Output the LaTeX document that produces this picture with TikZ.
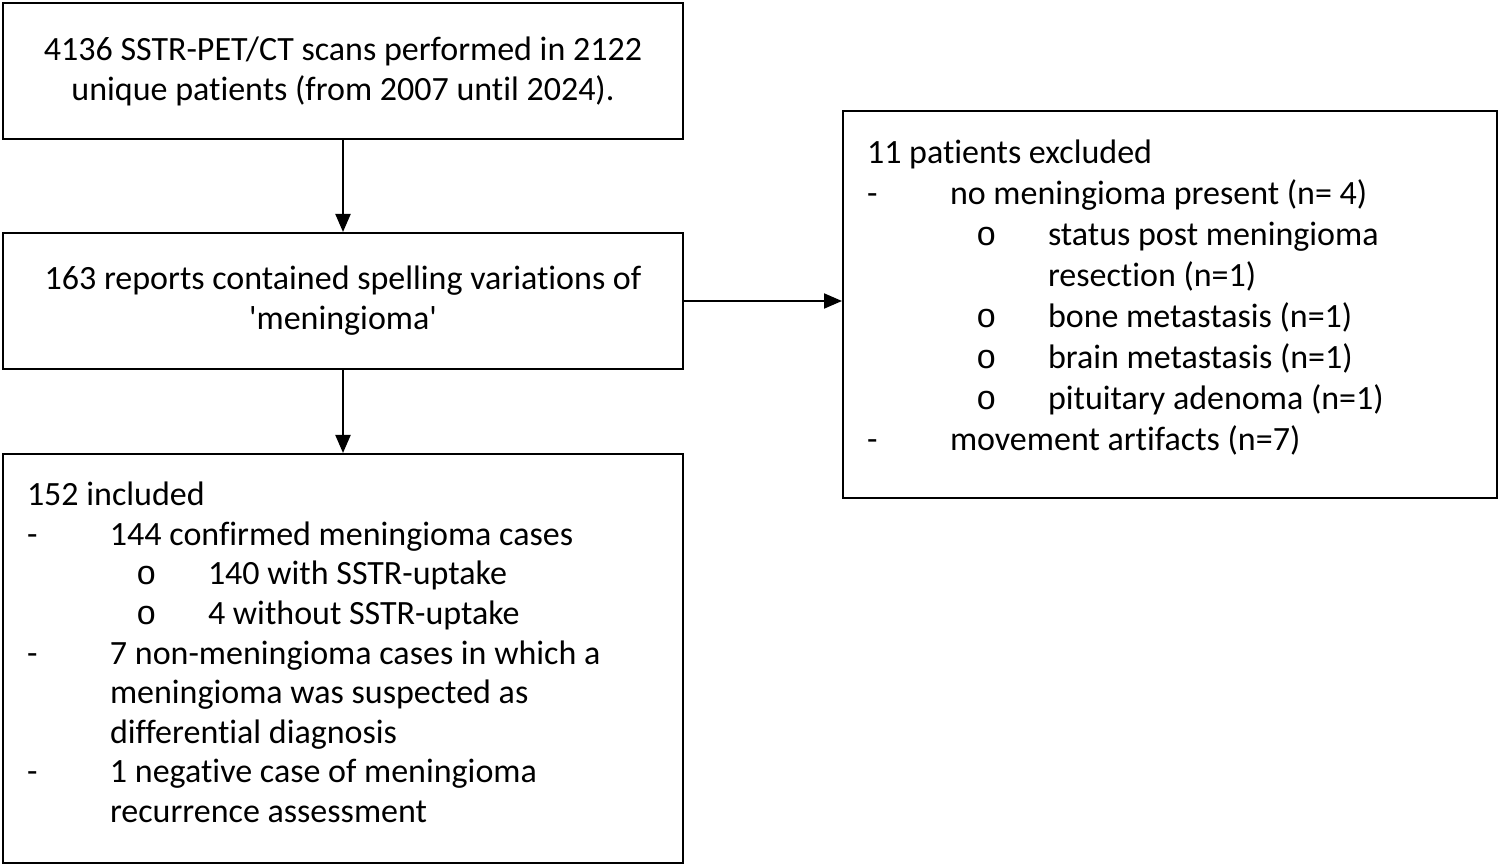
\documentclass[tikz,border=0pt]{standalone}
\usepackage{fontspec}
\setmainfont{Carlito}[Ligatures={TeX,NoCommon}]
\newfontfamily\bulletfont{Liberation Mono}
\usetikzlibrary{arrows.meta}

% list lines inside the boxes
\newcommand{\dashitem}[1]{\makebox[41.5pt][l]{-}#1}
\newcommand{\circitem}[1]{\hspace*{54.5pt}\makebox[36pt][l]{\bulletfont o}#1}
\newcommand{\dashcont}[1]{\hspace*{41.5pt}#1}
\newcommand{\circcont}[1]{\hspace*{90.5pt}#1}

\begin{document}
\begin{tikzpicture}[x=0.5pt,y=-0.5pt,>={Triangle[length=9pt,width=7.5pt]},
  font=\fontsize{17}{20}\selectfont,
  box/.style={draw,line width=1pt,anchor=north west,inner sep=0pt,align=center},
  listbox/.style={draw,line width=1pt,anchor=north west,inner sep=12pt}]

\useasboundingbox (0,0) rectangle (1498,865);

% Boxes
\node[box,minimum width=340pt,minimum height=68pt] (scans) at (2,2)
  {4136 SSTR-PET/CT scans performed in 2122\\unique patients (from 2007 until 2024).};

\node[box,minimum width=340pt,minimum height=68pt] (reports) at (2,232)
  {163 reports contained spelling variations of\\\textquotesingle meningioma\textquotesingle};

\node[listbox] (included) at (2,453)
  {\parbox[t][180.5pt][t]{316pt}{\raggedright\fontsize{17}{19.8}\selectfont
   \strut 152 included\\
   \dashitem{144 confirmed meningioma cases}\\
   \circitem{140 with SSTR-uptake}\\
   \circitem{4 without SSTR-uptake}\\
   \dashitem{7 non-meningioma cases in which a}\\
   \dashcont{meningioma was suspected as}\\
   \dashcont{differential diagnosis}\\
   \dashitem{1 negative case of meningioma}\\
   \dashcont{recurrence assessment}}};

\node[listbox] (excluded) at (842,110)
  {\parbox[t][169.5pt][t]{303pt}{\raggedright\fontsize{17}{20.5}\selectfont
   \strut 11 patients excluded\\
   \dashitem{no meningioma present (n= 4)}\\
   \circitem{status post meningioma}\\
   \circcont{resection (n=1)}\\
   \circitem{bone metastasis (n=1)}\\
   \circitem{brain metastasis (n=1)}\\
   \circitem{pituitary adenoma (n=1)}\\
   \dashitem{movement artifacts (n=7)}}};

% Arrows
\draw[->,line width=1pt] (scans.south) -- (reports.north);
\draw[->,line width=1pt] (reports.south) -- (included.north);
\draw[->,line width=1pt] (reports.east) -- (reports.east -| excluded.west);

\end{tikzpicture}
\end{document}
